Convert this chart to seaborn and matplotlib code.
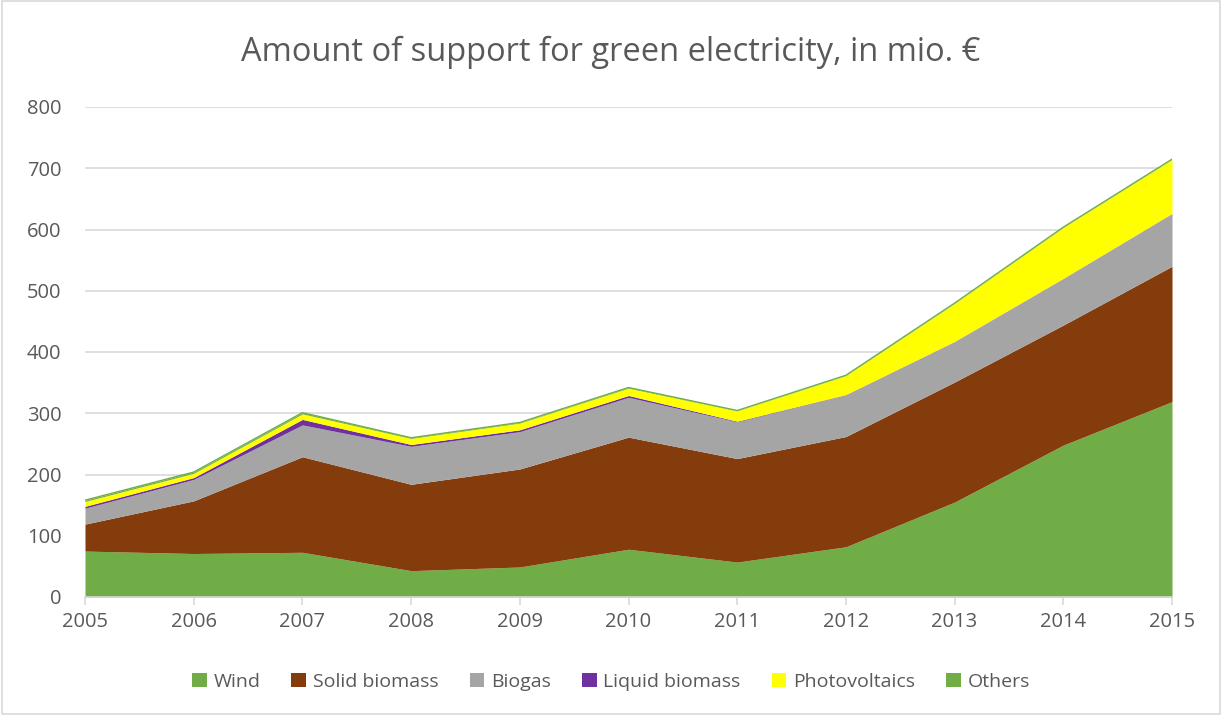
import matplotlib
matplotlib.use("Agg")
import matplotlib.pyplot as plt
import seaborn as sns
import numpy as np
import pandas as pd
from matplotlib.patches import Rectangle

years = [2005, 2006, 2007, 2008, 2009, 2010, 2011, 2012, 2013, 2014, 2015]
wind = [75, 71, 73, 43, 49, 78, 57, 82, 155, 248, 319]
solid_biomass = [44, 86, 156, 141, 160, 183, 169, 180, 196, 196, 221]
biogas = [26, 35, 52, 62, 61, 65, 60, 68, 66, 76, 86]
liquid_biomass = [3, 3, 9, 3, 3, 3, 1, 0.5, 0.3, 0.3, 0.3]
photovoltaics = [8, 7, 9, 10, 11, 12, 17, 31, 62, 83, 88]
others = [2, 2, 2, 1, 1, 1, 0.5, 0.5, 0.5, 0.5, 0.5]

series_names = ["Wind", "Solid biomass", "Biogas", "Liquid biomass", "Photovoltaics", "Others"]
colors = ["#70AD47", "#843C0C", "#A5A5A5", "#7030A0", "#FFFF00", "#70AD47"]

df = pd.DataFrame({"Year": years, "Wind": wind, "Solid biomass": solid_biomass,
                   "Biogas": biogas, "Liquid biomass": liquid_biomass,
                   "Photovoltaics": photovoltaics, "Others": others})

sns.set_theme(style="white")
plt.rcParams['font.family'] = ['Open Sans', 'DejaVu Sans']

fig = plt.figure(figsize=(12.22, 7.15), dpi=100)
ax = fig.add_axes([85/1222, 1-597/715, (1172-85)/1222, (597-107)/715])

ax.stackplot(df["Year"], [df[n] for n in series_names], colors=colors,
             labels=series_names, linewidth=0)
# thin outline on top of "Others"
total = df[series_names].sum(axis=1)
sns.lineplot(x=df["Year"], y=total, ax=ax, color="#70AD47", linewidth=1.0, legend=False)

ax.set_xlim(2005, 2015)
ax.set_ylim(0, 800)
ax.set_yticks(range(0, 801, 100))
ax.set_xticks(years)
ax.set_xticklabels([str(y) for y in years])
ax.set_xlabel("")
ax.set_ylabel("")
ax.grid(axis="y", color="#D9D9D9", linewidth=1.2)
ax.set_axisbelow(True)
for s in ["top", "right", "left"]:
    ax.spines[s].set_visible(False)
ax.spines["bottom"].set_color("#D9D9D9")
ax.spines["bottom"].set_linewidth(1.2)
ax.tick_params(axis="x", colors="#595959", labelsize=14.5, length=6, width=1.2,
               direction="out", bottom=True, pad=5)
ax.tick_params(axis="x", color="#D9D9D9")
ax.tick_params(axis="y", colors="#595959", labelsize=14.5, length=0, pad=17)

fig.text(0.5, 1-52/715, "Amount of support for green electricity, in mio. €",
         ha="center", va="center", fontsize=23.5, color="#595959")

handles, labels = ax.get_legend_handles_labels()
leg = fig.legend(handles[:6], labels[:6], loc="center", bbox_to_anchor=(0.5, 1-682/715),
                 ncol=6, frameon=False, fontsize=14, handlelength=0.75, handleheight=0.75,
                 handletextpad=0.35, columnspacing=1.6)
for t in leg.get_texts():
    t.set_color("#595959")

fig.patches.append(Rectangle((0.002, 0.002), 0.996, 0.996, transform=fig.transFigure,
                             fill=False, edgecolor="#D9D9D9", linewidth=1.2))

fig.savefig("out.png", dpi=100, facecolor="white")
